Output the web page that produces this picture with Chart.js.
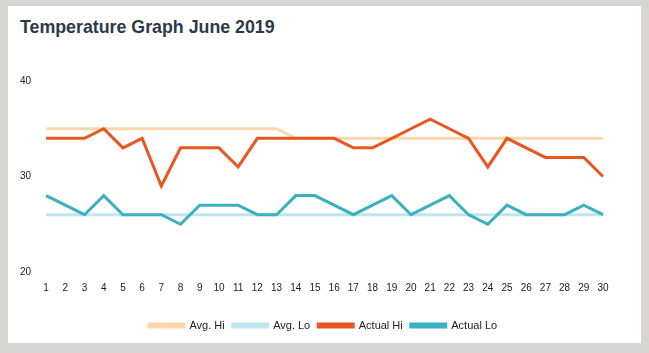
<!DOCTYPE html>
<html>
<head>
<meta charset="utf-8">
<script src="https://cdn.jsdelivr.net/npm/chart.js@4"></script>
<style>
  html, body { margin: 0; padding: 0; }
  body { background: #d8d5d5; width: 649px; height: 353px; position: relative; overflow: hidden; font-family: "Liberation Sans", Arial, sans-serif; }
  .card { position: absolute; left: 8px; top: 6px; width: 633px; height: 337px; background: #fff; }
  .card h2 { position: absolute; left: 12px; top: 11px; margin: 0; font-size: 17.8px; font-weight: bold; color: #2a3a4a; }
  .wrap { position: absolute; left: -3px; top: 54px; width: 636px; height: 281px; }
</style>
</head>
<body>
<div class="card">
  <h2>Temperature Graph June 2019</h2>
  <div class="wrap"><canvas id="temp-chart"></canvas></div>
</div>
<script>
// Dias de junio
const days = ['1','2','3','4','5','6','7','8','9','10','11','12','13','14','15','16','17','18','19','20','21','22','23','24','25','26','27','28','29','30'];
const avgHi = [35,35,35,35,35,35,35,35,35,35,35,35,35,34,34,34,34,34,34,34,34,34,34,34,34,34,34,34,34,34];
const avgLo = [26,26,26,26,26,26,26,26,26,26,26,26,26,26,26,26,26,26,26,26,26,26,26,26,26,26,26,26,26,26];
const actualHi = [34,34,34,35,33,34,29,33,33,33,31,34,34,34,34,34,33,33,34,35,36,35,34,31,34,33,32,32,32,30];
const actualLo = [28,27,26,28,26,26,26,25,27,27,27,26,26,28,28,27,26,27,28,26,27,28,26,25,27,26,26,26,27,26];
const yTicks = [20, 30, 40];

const ctx = document.getElementById('temp-chart').getContext('2d');

function line(label, data, color, order) {
    return {
        label: label,
        data: data,
        borderColor: color,
        backgroundColor: color,
        borderWidth: 3,
        pointRadius: 0,
        tension: 0,
        fill: false,
        order: order
    };
}

const chart = new Chart(ctx, {
    type: 'line',
    data: {
        labels: days,
        datasets: [
            line('Avg. Hi', avgHi, '#fdd6ab', 2),
            line('Avg. Lo', avgLo, '#bfe6ef', 2),
            line('Actual Hi', actualHi, '#e8571f', 1),
            line('Actual Lo', actualLo, '#3bb1bf', 1)
        ]
    },
    options: {
        responsive: true,
        maintainAspectRatio: false,
        animation: false,
        layout: { padding: { top: 21, right: 0, left: 0, bottom: 0 } },
        plugins: {
            tooltip: { enabled: false },
            legend: {
                position: 'bottom',
                labels: {
                    boxWidth: 35,
                    boxHeight: 3,
                    padding: 8,
                    color: '#222',
                    font: { family: '"Liberation Sans", Arial, sans-serif', size: 11 },
                    sort: (a, b) => a.datasetIndex - b.datasetIndex
                }
            }
        },
        scales: {
            x: {
                grid: { display: false, drawTicks: false },
                border: { display: false },
                afterFit: axis => {
                    // espacio extra bajo las etiquetas y margen derecho
                    axis.height += 8;
                    axis.paddingRight = 38;
                },
                ticks: {
                    color: '#222',
                    padding: 10,
                    maxRotation: 0,
                    autoSkip: false,
                    font: { family: '"Liberation Sans", Arial, sans-serif', size: 10 }
                }
            },
            y: {
                min: 20,
                max: 40,
                afterBuildTicks: axis => { axis.ticks = yTicks.map(v => ({ value: v })); },
                grid: { display: false, drawTicks: false },
                border: { display: false },
                ticks: {
                    color: '#222',
                    padding: 15,
                    font: { family: '"Liberation Sans", Arial, sans-serif', size: 10 }
                }
            }
        }
    }
});
</script>
</body>
</html>
